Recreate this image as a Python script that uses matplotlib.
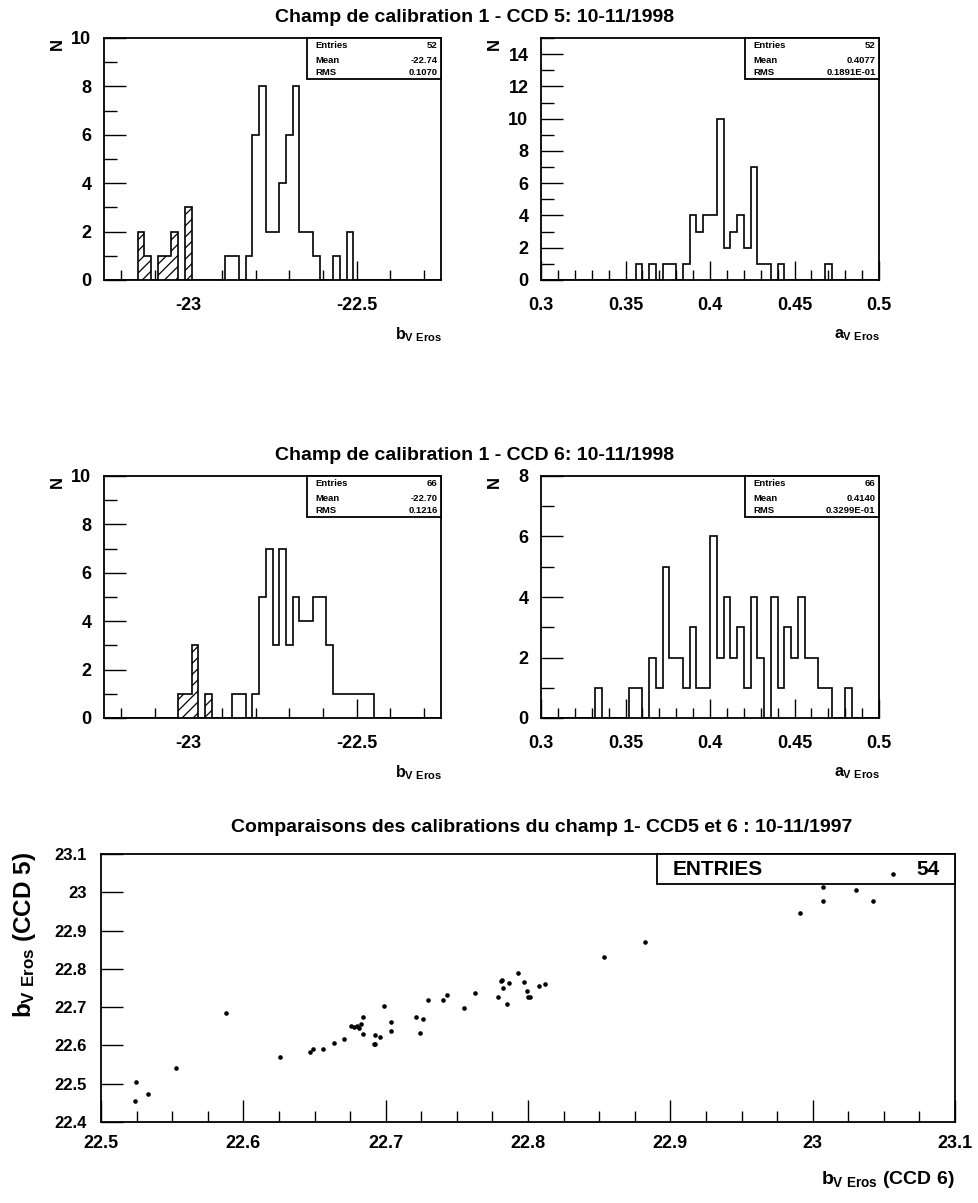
import numpy as np
import matplotlib
matplotlib.use("Agg")
import matplotlib.pyplot as plt
from matplotlib.patches import Rectangle
from matplotlib.ticker import MultipleLocator, FixedLocator

plt.rcParams['font.family'] = ['Liberation Sans', 'DejaVu Sans']
plt.rcParams['font.weight'] = 'bold'
plt.rcParams['mathtext.fontset'] = 'custom'
plt.rcParams['mathtext.rm'] = 'Liberation Sans:bold'
plt.rcParams['mathtext.it'] = 'Liberation Sans:bold'
plt.rcParams['mathtext.bf'] = 'Liberation Sans:bold'
plt.rcParams['hatch.linewidth'] = 0.9

# ---- histogram data (50 bins each) ----
b_range = (-23.25, -22.25)
a_range = (0.30, 0.50)
n_bins = 50

# CCD 5, zero point b
b5_counts = [0, 0, 0, 0, 0, 2, 1, 0, 1, 1,
             2, 0, 3, 0, 0, 0, 0, 0, 1, 1,
             0, 1, 6, 8, 2, 2, 4, 6, 8, 2,
             2, 1, 0, 0, 1, 0, 2, 0, 0, 0,
             0, 0, 0, 0, 0, 0, 0, 0, 0, 0]
b5_rejected = [0, 0, 0, 0, 0, 2, 1, 0, 1, 1,
               2, 0, 3, 0, 0, 0, 0, 0, 0, 0,
               0, 0, 0, 0, 0, 0, 0, 0, 0, 0,
               0, 0, 0, 0, 0, 0, 0, 0, 0, 0,
               0, 0, 0, 0, 0, 0, 0, 0, 0, 0]
# CCD 5, colour term a
a5_counts = [0, 0, 0, 0, 0, 0, 0, 0, 0, 0,
             0, 0, 0, 0, 1, 0, 1, 0, 1, 1,
             0, 1, 4, 3, 4, 4, 10, 2, 3, 4,
             2, 7, 1, 1, 0, 1, 0, 0, 0, 0,
             0, 0, 1, 0, 0, 0, 0, 0, 0, 0]
# CCD 6, zero point b
b6_counts = [0, 0, 0, 0, 0, 0, 0, 0, 0, 0,
             0, 1, 1, 3, 0, 1, 0, 0, 0, 1,
             1, 0, 1, 5, 7, 3, 7, 3, 5, 4,
             4, 5, 5, 3, 1, 1, 1, 1, 1, 1,
             0, 0, 0, 0, 0, 0, 0, 0, 0, 0]
b6_rejected = [0, 0, 0, 0, 0, 0, 0, 0, 0, 0,
               0, 1, 1, 3, 0, 1, 0, 0, 0, 0,
               0, 0, 0, 0, 0, 0, 0, 0, 0, 0,
               0, 0, 0, 0, 0, 0, 0, 0, 0, 0,
               0, 0, 0, 0, 0, 0, 0, 0, 0, 0]
# CCD 6, colour term a
a6_counts = [0, 0, 0, 0, 0, 0, 0, 0, 1, 0,
             0, 0, 0, 1, 1, 0, 2, 1, 5, 2,
             2, 1, 3, 1, 1, 6, 2, 4, 2, 3,
             1, 4, 2, 0, 4, 1, 3, 2, 4, 2,
             2, 1, 1, 0, 0, 1, 0, 0, 0, 0]

stats5_b = ("52", "-22.74", "0.1070")
stats5_a = ("52", "0.4077", "0.1891E-01")
stats6_b = ("66", "-22.70", "0.1216")
stats6_a = ("66", "0.4140", "0.3299E-01")

# ---- scatter data: b (CCD 6) vs b (CCD 5) ----
b_ccd6 = [22.5247, 22.5238, 22.5331, 22.5527, 22.5878, 22.6260, 22.6468, 22.6487,
          22.6560, 22.6640, 22.6710, 22.6756, 22.6780, 22.6800, 22.6815, 22.6830,
          22.6839, 22.6839, 22.6916, 22.6928, 22.6928, 22.6963, 22.6990, 22.7040,
          22.7040, 22.7210, 22.7260, 22.7239, 22.7300, 22.7400, 22.7433, 22.7552,
          22.7627, 22.7790, 22.7807, 22.7815, 22.7824, 22.7850, 22.7866, 22.7930,
          22.7970, 22.7990, 22.8001, 22.8013, 22.8080, 22.8120, 22.8533, 22.8823,
          22.9914, 23.0075, 23.0075, 23.0307, 23.0427, 23.0565]
b_ccd5 = [22.505, 22.454, 22.473, 22.542, 22.685, 22.571, 22.583, 22.590,
          22.590, 22.606, 22.618, 22.651, 22.647, 22.650, 22.645, 22.656,
          22.675, 22.630, 22.605, 22.603, 22.627, 22.623, 22.703, 22.660,
          22.638, 22.675, 22.670, 22.632, 22.718, 22.718, 22.732, 22.697,
          22.738, 22.727, 22.769, 22.771, 22.750, 22.708, 22.764, 22.788,
          22.765, 22.743, 22.727, 22.727, 22.754, 22.760, 22.830, 22.869,
          22.945, 22.978, 23.014, 23.005, 22.976, 23.048]

W, H = 979, 1203
fig = plt.figure(figsize=(W / 100, H / 100), dpi=100)


def rect(x0, y0, x1, y1):
    return [x0 / W, 1 - y1 / H, (x1 - x0) / W, (y1 - y0) / H]


def style_axes(ax):
    for s in ax.spines.values():
        s.set_linewidth(1.3)
        s.set_color('black')
    ax.tick_params(which='both', direction='in', top=False, right=False,
                   width=1.0, colors='black')


def stats_box(ax, values):
    x0, y0 = 0.603, 0.831
    ax.add_patch(Rectangle((x0, y0), 1 - x0, 1 - y0, transform=ax.transAxes,
                           facecolor='white', edgecolor='black', lw=1.3,
                           zorder=5, clip_on=False))
    names = ("Entries", "Mean", "RMS")
    ys = (0.968, 0.909, 0.857)
    for name, val, y in zip(names, values, ys):
        ax.text(x0 + 0.025, y, name, transform=ax.transAxes, fontsize=6.8,
                fontweight='bold', va='center', ha='left', zorder=6)
        ax.text(0.99, y, val, transform=ax.transAxes, fontsize=6.8,
                fontweight='bold', va='center', ha='right', zorder=6)


def histogram(box, counts, rng, ymax, ymajor, xmajor, xminor, stats,
              rejected=None, xlabel=''):
    ax = fig.add_axes(rect(*box))
    edges = np.linspace(rng[0], rng[1], n_bins + 1)
    if rejected is not None:
        ax.stairs(rejected, edges, fill=True, facecolor='white',
                  edgecolor='black', hatch='///', lw=0, zorder=2)
    ax.stairs(counts, edges, color='black', lw=1.2, zorder=3)
    ax.set_xlim(*rng)
    ax.set_ylim(0, ymax)
    style_axes(ax)
    ax.xaxis.set_major_locator(MultipleLocator(xmajor))
    ax.xaxis.set_minor_locator(MultipleLocator(xminor))
    ax.yaxis.set_major_locator(MultipleLocator(ymajor))
    ax.yaxis.set_minor_locator(MultipleLocator(ymajor / 2))
    ax.tick_params(axis='x', which='major', length=14, pad=12, labelsize=13)
    ax.tick_params(axis='x', which='minor', length=7)
    ax.tick_params(axis='y', which='major', length=16, pad=9, labelsize=13)
    ax.tick_params(axis='y', which='minor', length=9)
    ax.xaxis.set_major_formatter(matplotlib.ticker.FuncFormatter(
        lambda v, p: ('%g' % round(v, 3))))
    for lab in ax.get_xticklabels() + ax.get_yticklabels():
        lab.set_fontweight('bold')
    stats_box(ax, stats)
    x0, y0, x1, y1 = box
    fig.text((x0 - 47) / W, 1 - (y0 + 6) / H, 'N', rotation=90, fontsize=12,
             fontweight='bold', ha='center', va='center')
    fig.text((x1 + 1) / W, 1 - (y1 + 55) / H, xlabel, fontsize=11.5,
             ha='right', va='center')
    return ax


blabel = r'$b_{V\ Eros}$'
alabel = r'$a_{V\ Eros}$'

fig.text(475 / W, 1 - 17 / H, 'Champ de calibration 1 - CCD 5: 10-11/1998',
         fontsize=14, fontweight='bold', ha='center', va='center')
histogram((104, 38, 441, 280), b5_counts, b_range, 10, 2, 0.5, 0.1, stats5_b,
          rejected=b5_rejected, xlabel=blabel)
histogram((541, 38, 879, 280), a5_counts, a_range, 15, 2, 0.05, 0.01, stats5_a,
          xlabel=alabel)

fig.text(475 / W, 1 - 455 / H, 'Champ de calibration 1 - CCD 6: 10-11/1998',
         fontsize=14, fontweight='bold', ha='center', va='center')
histogram((104, 476, 441, 718), b6_counts, b_range, 10, 2, 0.5, 0.1, stats6_b,
          rejected=b6_rejected, xlabel=blabel)
histogram((541, 476, 879, 718), a6_counts, a_range, 8, 2, 0.05, 0.01, stats6_a,
          xlabel=alabel)

# ---- scatter comparison ----
fig.text(542 / W, 1 - 828 / H,
         'Comparaisons des calibrations du champ 1- CCD5 et 6 : 10-11/1997',
         fontsize=14, fontweight='bold', ha='center', va='center')
ax = fig.add_axes(rect(101, 854, 955, 1122))
ax.plot(b_ccd6, b_ccd5, 'o', color='black', ms=3.3, mew=0, zorder=7)
ax.set_xlim(22.5, 23.1)
ax.set_ylim(22.4, 23.1)
style_axes(ax)
ax.xaxis.set_major_locator(MultipleLocator(0.1))
ax.xaxis.set_minor_locator(MultipleLocator(0.025))
ax.yaxis.set_major_locator(MultipleLocator(0.1))
ax.yaxis.set_minor_locator(FixedLocator([]))
fmt = matplotlib.ticker.FuncFormatter(lambda v, p: '%g' % round(v, 3))
ax.xaxis.set_major_formatter(fmt)
ax.yaxis.set_major_formatter(fmt)
ax.tick_params(axis='x', which='major', length=16, pad=9, labelsize=13)
ax.tick_params(axis='x', which='minor', length=8)
ax.tick_params(axis='y', which='major', length=16, pad=10, labelsize=12)
for lab in ax.get_xticklabels() + ax.get_yticklabels():
    lab.set_fontweight('bold')

bx0, by0 = 0.651, 0.888
ax.add_patch(Rectangle((bx0, by0), 1 - bx0, 1 - by0, transform=ax.transAxes,
                       facecolor='white', edgecolor='black', lw=1.3, zorder=5,
                       clip_on=False))
ax.text(bx0 + 0.018, 0.944, 'ENTRIES', transform=ax.transAxes, fontsize=15,
        fontweight='bold', ha='left', va='center', zorder=6)
ax.text(0.982, 0.944, str(len(b_ccd6)), transform=ax.transAxes, fontsize=15,
        fontweight='bold', ha='right', va='center', zorder=6)

fig.text(25 / W, 1 - 935 / H, r'$b_{V\ Eros}$ (CCD 5)', rotation=90,
         fontsize=17.5, fontweight='bold', ha='center', va='center')
fig.text(955 / W, 1 - 1180 / H, r'$b_{V\ Eros}$ (CCD 6)',
         fontsize=14, fontweight='bold', ha='right', va='center')

fig.savefig('out.png', dpi=100, facecolor='white')
